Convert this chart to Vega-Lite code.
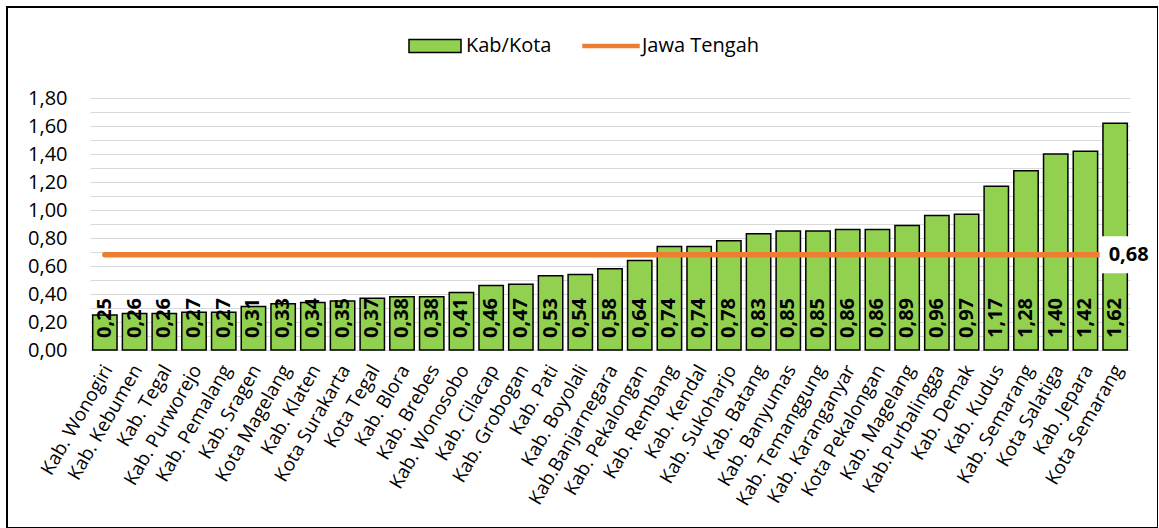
{
  "$schema": "https://vega.github.io/schema/vega-lite/v6.json",
  "width": 1151,
  "height": 521,
  "autosize": {"type": "none"},
  "padding": {"left": 7, "top": 7, "right": 0, "bottom": 0},
  "config": {
    "font": "Open Sans",
    "locale": {"number": {"decimal": ",", "thousands": ".", "grouping": [3], "currency": ["Rp", ""]}},
    "view": {"stroke": "black", "strokeWidth": 2},
    "axisY": {
      "title": null,
      "values": [0, 0.2, 0.4, 0.6, 0.8, 1.0, 1.2, 1.4, 1.6, 1.8],
      "format": ".2f",
      "labelFontSize": 20,
      "labelColor": "black",
      "ticks": false,
      "domain": false,
      "grid": true,
      "gridColor": "#D9D9D9",
      "gridWidth": 1,
      "labelPadding": -60
    },
    "legend": {
      "orient": "none",
      "legendX": 400,
      "legendY": 11,
      "direction": "horizontal",
      "labelFontSize": 20,
      "labelColor": "black",
      "symbolSize": 2900,
      "symbolStrokeWidth": 1.5,
      "labelOffset": 3,
      "columnPadding": 27,
      "padding": 0
    }
  },
  "data": {
    "values": [
      {"name": "Kab. Wonogiri", "value": 0.25, "jateng": 0.68},
      {"name": "Kab. Kebumen", "value": 0.26, "jateng": 0.68},
      {"name": "Kab. Tegal", "value": 0.26, "jateng": 0.68},
      {"name": "Kab. Purworejo", "value": 0.27, "jateng": 0.68},
      {"name": "Kab. Pemalang", "value": 0.27, "jateng": 0.68},
      {"name": "Kab. Sragen", "value": 0.31, "jateng": 0.68},
      {"name": "Kota Magelang", "value": 0.33, "jateng": 0.68},
      {"name": "Kab. Klaten", "value": 0.34, "jateng": 0.68},
      {"name": "Kota Surakarta", "value": 0.35, "jateng": 0.68},
      {"name": "Kota Tegal", "value": 0.37, "jateng": 0.68},
      {"name": "Kab. Blora", "value": 0.38, "jateng": 0.68},
      {"name": "Kab. Brebes", "value": 0.38, "jateng": 0.68},
      {"name": "Kab. Wonosobo", "value": 0.41, "jateng": 0.68},
      {"name": "Kab. Cilacap", "value": 0.46, "jateng": 0.68},
      {"name": "Kab. Grobogan", "value": 0.47, "jateng": 0.68},
      {"name": "Kab. Pati", "value": 0.53, "jateng": 0.68},
      {"name": "Kab. Boyolali", "value": 0.54, "jateng": 0.68},
      {"name": "Kab.Banjarnegara", "value": 0.58, "jateng": 0.68},
      {"name": "Kab. Pekalongan", "value": 0.64, "jateng": 0.68},
      {"name": "Kab. Rembang", "value": 0.74, "jateng": 0.68},
      {"name": "Kab. Kendal", "value": 0.74, "jateng": 0.68},
      {"name": "Kab. Sukoharjo", "value": 0.78, "jateng": 0.68},
      {"name": "Kab. Batang", "value": 0.83, "jateng": 0.68},
      {"name": "Kab. Banyumas", "value": 0.85, "jateng": 0.68},
      {"name": "Kab. Temanggung", "value": 0.85, "jateng": 0.68},
      {"name": "Kab. Karanganyar", "value": 0.86, "jateng": 0.68},
      {"name": "Kota Pekalongan", "value": 0.86, "jateng": 0.68},
      {"name": "Kab. Magelang", "value": 0.89, "jateng": 0.68},
      {"name": "Kab.Purbalingga", "value": 0.96, "jateng": 0.68},
      {"name": "Kab. Demak", "value": 0.97, "jateng": 0.68},
      {"name": "Kab. Kudus", "value": 1.17, "jateng": 0.68},
      {"name": "Kab. Semarang", "value": 1.28, "jateng": 0.68},
      {"name": "Kota Salatiga", "value": 1.40, "jateng": 0.68},
      {"name": "Kab. Jepara", "value": 1.42, "jateng": 0.68},
      {"name": "Kota Semarang", "value": 1.62, "jateng": 0.68}
    ]
  },
  "encoding": {
    "x": {
      "field": "name",
      "type": "nominal",
      "sort": null,
      "scale": {"range": [83, 1123], "paddingInner": 0.18, "paddingOuter": 0.09},
      "axis": {
        "title": null,
        "labelAngle": -60,
        "labelAlign": "right",
        "labelBaseline": "middle",
        "labelFontSize": 19,
        "labelColor": "black",
        "labelPadding": 16,
        "labelOffset": 3,
        "labelLimit": 300,
        "labelOverlap": false,
        "ticks": false,
        "domain": true,
        "domainColor": "#D9D9D9",
        "domainWidth": 1,
        "grid": false,
        "offset": -178
      }
    }
  },
  "layer": [
    {
      "mark": {"type": "bar", "fill": "#92D050", "stroke": "black", "strokeWidth": 1.5},
      "encoding": {
        "y": {
          "field": "value",
          "type": "quantitative",
          "title": null,
          "scale": {"domain": [0, 1.8], "nice": false, "zero": true, "range": [343, 91]}
        }
      }
    },
    {
      "mark": {"type": "text", "angle": 270, "align": "left", "baseline": "middle", "dx": 12, "fontWeight": "bold", "fontSize": 20, "fill": "black"},
      "encoding": {
        "y": {"datum": 0, "type": "quantitative", "title": null},
        "text": {"field": "value", "type": "quantitative", "format": ".2f"}
      }
    },
    {
      "mark": {"type": "line", "stroke": "#ED7D31", "strokeWidth": 5.5, "strokeCap": "round"},
      "encoding": {
        "y": {"field": "jateng", "type": "quantitative", "title": null}
      }
    },
    {
      "transform": [{"filter": "datum.name === 'Kota Semarang'"}],
      "mark": {"type": "point", "shape": "M-1,-0.71H1V0.71H-1Z", "size": 2704, "filled": true, "fill": "white", "strokeWidth": 0, "opacity": 1, "xOffset": 10.5},
      "encoding": {
        "y": {"field": "jateng", "type": "quantitative", "title": null}
      }
    },
    {
      "transform": [{"filter": "datum.name === 'Kota Semarang'"}],
      "mark": {"type": "text", "align": "center", "baseline": "middle", "dx": 13.5, "fontWeight": "bold", "fontSize": 20, "fill": "black"},
      "encoding": {
        "y": {"field": "jateng", "type": "quantitative", "title": null},
        "text": {"field": "jateng", "type": "quantitative", "format": ".2f"}
      }
    },
    {
      "data": {"values": [{"series": "Kab/Kota"}, {"series": "Jawa Tengah"}]},
      "transform": [{"filter": "false"}],
      "mark": {"type": "point", "filled": true, "opacity": 1, "strokeWidth": 1.5},
      "encoding": {
        "x": null,
        "shape": {
          "field": "series",
          "type": "nominal",
          "title": null,
          "scale": {"domain": ["Kab/Kota", "Jawa Tengah"], "range": ["M-0.966,-0.24H0.966V0.24H-0.966Z", "M-1.04,-0.06H1.04V0.06H-1.04Z"]}
        },
        "fill": {
          "field": "series",
          "type": "nominal",
          "title": null,
          "scale": {"domain": ["Kab/Kota", "Jawa Tengah"], "range": ["#92D050", "#ED7D31"]}
        },
        "stroke": {
          "field": "series",
          "type": "nominal",
          "title": null,
          "scale": {"domain": ["Kab/Kota", "Jawa Tengah"], "range": ["black", "#ED7D31"]}
        }
      }
    }
  ]
}
